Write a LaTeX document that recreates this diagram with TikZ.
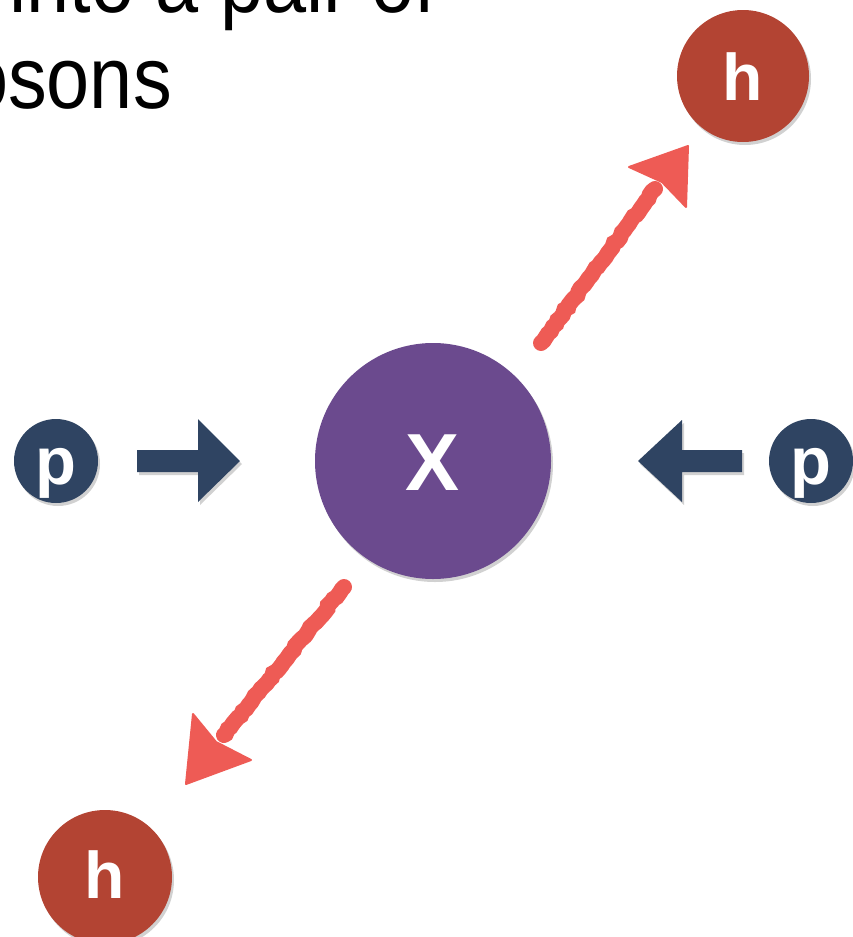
\documentclass[tikz,border=0pt]{standalone}
\usepackage{fontspec}
\setmainfont{Liberation Sans}
\usetikzlibrary{shadows,decorations.pathmorphing}
\definecolor{navy}{HTML}{2F4462}
\definecolor{purp}{HTML}{6B4A8E}
\definecolor{brick}{HTML}{B34433}
\definecolor{chalk}{HTML}{EE5B55}
\begin{document}
\begin{tikzpicture}[x=1pt,y=-1pt,
  softshadow/.style={drop shadow={shadow xshift=2pt, shadow yshift=-3pt, opacity=0.18, fill=black}},
  ball/.style={circle, fill=#1, draw=none, inner sep=0pt, softshadow},
  lettr/.style={anchor=base, text=white, inner sep=0pt, font=\fontsize{#1}{#1}\selectfont\bfseries},
  headline/.style={anchor=base east, inner sep=0pt, text=black, font=\fontsize{88}{96}\selectfont},
  blockarrow/.style={fill=navy, draw=none, softshadow},
  chalkline/.style={draw=chalk, line width=16pt, line cap=round,
    decorate, decoration={random steps, segment length=4pt, amplitude=1pt}},
  chalkhead/.style={fill=chalk, draw=chalk, line width=2pt, line join=round}]
\useasboundingbox (0,0) rectangle (853,937);
\clip (0,0) rectangle (853,937);

% headline text (cut off at the top and left)
\node[headline] (t1) at (436,12) {\scalebox{0.88}[1]{g into a pair of}};
\node[headline] (t2) at (172,108) {\scalebox{0.88}[1]{osons}};

% particles
\node[ball=purp, minimum size=236pt] (X) at (433,461) {};
\node[lettr=81] (Xt) at (433,490) {X};

\node[ball=navy, minimum size=84pt] (p1) at (56,461) {};
\node[lettr=67] (p1t) at (56,484) {p};
\node[ball=navy, minimum size=84pt] (p2) at (811,461) {};
\node[lettr=67] (p2t) at (811,484) {p};

\node[ball=brick, minimum size=132pt] (h1) at (743,76) {};
\node[lettr=66] (h1t) at (743,100) {h};
\node[ball=brick, minimum size=134pt] (h2) at (105,877) {};
\node[lettr=66] (h2t) at (105,898) {h};

% incoming block arrows
\fill[blockarrow] (137,450) -- (198,450) -- (198,419) -- (240,461) -- (198,502)
  -- (198,472) -- (137,472) -- cycle;
\fill[blockarrow] (742,450) -- (682,450) -- (682,420) -- (638,461) -- (682,502)
  -- (682,472) -- (742,472) -- cycle;

% outgoing chalk arrows
\coordinate (a1s) at (541,343);
\coordinate (a1b) at (655,189);
\coordinate (a1t) at (688,146);
\coordinate (a1w) at (629,167);
\coordinate (a1v) at (686,207);
\coordinate (a1n) at (662,182);
\draw[chalkline] (a1s) -- (a1b);
\filldraw[chalkhead] (a1t) -- (a1w) -- (a1n) -- (a1v) -- cycle;

\coordinate (a2s) at (344,587);
\coordinate (a2b) at (224,735);
\coordinate (a2t) at (186,784);
\coordinate (a2w) at (193,714);
\coordinate (a2v) at (251,760);
\coordinate (a2n) at (216,742);
\draw[chalkline] (a2s) -- (a2b);
\filldraw[chalkhead] (a2t) -- (a2w) -- (a2n) -- (a2v) -- cycle;
\end{tikzpicture}
\end{document}
